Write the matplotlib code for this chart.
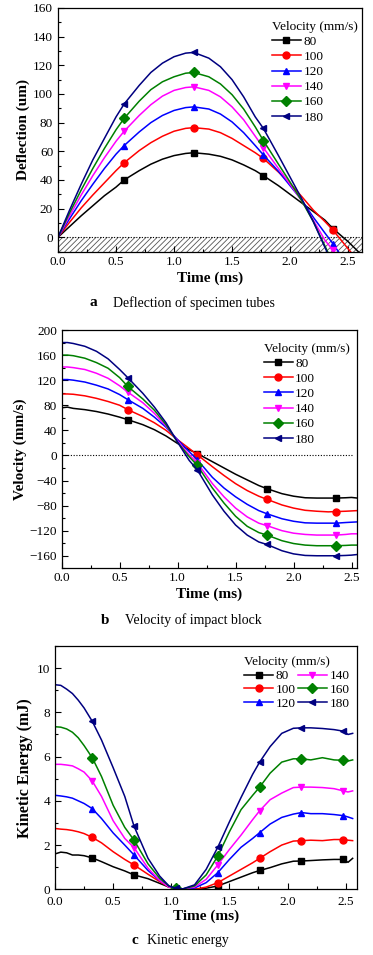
import numpy as np
import matplotlib
matplotlib.use("Agg")
import matplotlib.pyplot as plt
from matplotlib.ticker import MultipleLocator

plt.rcParams['font.family'] = ['Liberation Serif', 'DejaVu Serif']
plt.rcParams['hatch.linewidth'] = 0.6

# ---------------- data ----------------
velocities = ["80", "100", "120", "140", "160", "180"]
colors = ["#000000", "#FF0000", "#0000FF", "#FF00FF", "#008000", "#000080"]
markers = ["s", "o", "^", "v", "D", "<"]

# (a) deflection of specimen tubes (um)
t_a = [0, 0.1, 0.2, 0.3, 0.4, 0.5, 0.57, 0.7, 0.8, 0.9, 1.0, 1.1, 1.17, 1.3, 1.4,
       1.5, 1.6, 1.7, 1.77, 1.9, 2.0, 2.1, 2.2, 2.3, 2.37, 2.5, 2.6]
mk_a = [0.57, 1.17, 1.77, 2.37]
defl_80 = [0, 7.5, 15, 22, 29, 35, 40, 46.5, 51, 54.5, 57, 58.5, 59, 58, 56.5,
           54, 50.5, 46.5, 43, 36, 30, 24, 18, 12, 6, -3, -11]
defl_100 = [0, 10.5, 20.5, 29.5, 38, 46.5, 52, 60.5, 66, 70.5, 74, 76, 76.5, 75.5, 73,
            69, 64, 59, 55, 45.5, 37.5, 28.5, 19, 11, 5, -8, -18]
defl_120 = [0, 13, 25.5, 37, 48, 58, 64, 73.5, 80, 85, 88.5, 90.5, 91, 89.5, 86,
            80.5, 73, 64, 57.5, 46, 36, 26, 14, 3, -4.5, -20, -32]
defl_140 = [0, 15, 29.5, 43, 55.5, 67, 74, 85, 92.5, 98.5, 102.5, 104.5, 105, 102.5, 98,
            91, 82, 70.5, 62.5, 48, 37, 25.5, 12, -2, -9, -28, -42]
defl_160 = [0, 17, 33, 48, 62, 75, 83, 95, 103, 108.5, 112, 114.5, 115, 112, 107,
            99.5, 89.5, 77, 67.5, 51, 38.5, 25.5, 11, -6, -18, -38, -52]
defl_180 = [0, 19, 37, 54, 69, 84, 93, 106, 115, 121.5, 126, 128.5, 129, 125, 119,
            110, 98, 84, 76, 57, 42, 27, 11, -7, -19, -40, -55]

# (b) velocity of impact block (mm/s)
t_b = [0, 0.05, 0.1, 0.2, 0.3, 0.4, 0.5, 0.57, 0.7, 0.8, 0.9, 1.0, 1.1, 1.17, 1.3,
       1.4, 1.5, 1.6, 1.7, 1.77, 1.9, 2.0, 2.1, 2.2, 2.3, 2.37, 2.45, 2.5, 2.55, 2.6]
mk_b = [0.57, 1.17, 1.77, 2.37]
vel_80 = [76, 77, 75, 73, 70, 66, 61, 57, 49, 41, 31, 19, 9, 3, -10,
          -20, -30, -39, -48, -53, -61, -65, -67.5, -68, -68, -68, -67.5, -67, -68, -69]
vel_100 = [98, 98, 97.5, 95, 91, 86, 80, 73, 62, 52, 40, 25, 11, 1, -18,
           -32, -45, -56, -65, -70, -79, -84, -87.5, -89, -90, -89.5, -89, -88.5, -88, -88]
vel_120 = [121, 121, 120, 117, 112, 106, 97, 89, 75, 61, 45, 25, 6, -7, -35,
           -52, -66, -78, -88, -93, -101, -105, -107.5, -108, -108, -108, -107, -106.5, -106, -105]
vel_140 = [141, 141, 140, 137, 131, 123, 111, 101, 84, 67, 47, 23, 1, -12, -45,
           -66, -84, -98, -108, -112, -120, -124, -126, -127, -127, -127, -126, -125, -125, -125]
vel_160 = [160, 160, 159, 155, 148, 139, 124, 110, 90, 72, 49, 21, -2, -16, -52,
           -76, -97, -113, -123, -127, -136, -140.5, -143, -144, -144, -144, -143.5, -143, -143, -142]
vel_180 = [180, 180, 178.5, 174, 166, 154, 137, 124, 99, 77, 52, 21, -8, -23, -63,
           -89, -111, -127, -138, -142, -152, -157, -159.5, -160, -160, -160, -159.5, -159, -158, -157]

# (c) kinetic energy (mJ)
t_c = [0, 0.05, 0.1, 0.15, 0.2, 0.25, 0.32, 0.4, 0.5, 0.6, 0.68, 0.8, 0.9, 0.98, 1.04,
       1.1, 1.2, 1.3, 1.4, 1.5, 1.6, 1.7, 1.76, 1.85, 1.95, 2.05, 2.12, 2.2, 2.3, 2.4,
       2.48, 2.52, 2.56]
mk_c = [0.32, 0.68, 1.04, 1.4, 1.76, 2.12, 2.48]
ke_80 = [1.6, 1.68, 1.65, 1.55, 1.55, 1.52, 1.42, 1.25, 1.02, 0.83, 0.65, 0.48, 0.27, 0.1, 0.02,
         0.0, 0.0, 0.05, 0.15, 0.35, 0.55, 0.75, 0.85, 0.98, 1.15, 1.27, 1.28, 1.3, 1.33, 1.35,
         1.35, 1.22, 1.4]
ke_100 = [2.75, 2.72, 2.7, 2.66, 2.6, 2.52, 2.35, 2.1, 1.7, 1.35, 1.1, 0.68, 0.35, 0.1, 0.03,
          0.0, 0.0, 0.1, 0.3, 0.6, 0.9, 1.2, 1.4, 1.7, 2.0, 2.18, 2.2, 2.22, 2.2, 2.25,
          2.25, 2.22, 2.2]
ke_120 = [4.25, 4.22, 4.18, 4.12, 4.0, 3.88, 3.65, 3.2, 2.55, 2.0, 1.55, 0.85, 0.4, 0.12, 0.03,
          0.01, 0.06, 0.3, 0.75, 1.35, 1.9, 2.3, 2.56, 2.95, 3.25, 3.4, 3.47, 3.42, 3.42, 3.38,
          3.33, 3.27, 3.2]
ke_140 = [5.65, 5.65, 5.62, 5.58, 5.45, 5.3, 4.9, 4.2, 3.1, 2.3, 1.88, 0.95, 0.4, 0.1, 0.03,
          0.02, 0.1, 0.45, 1.1, 1.8, 2.45, 3.15, 3.55, 4.05, 4.35, 4.6, 4.62, 4.62, 4.6, 4.55,
          4.45, 4.4, 4.45]
ke_160 = [7.35, 7.33, 7.25, 7.1, 6.85, 6.5, 5.95, 5.1, 3.8, 2.8, 2.22, 1.15, 0.5, 0.15, 0.04,
          0.02, 0.15, 0.65, 1.5, 2.6, 3.6, 4.25, 4.62, 5.25, 5.75, 5.9, 5.9, 5.85, 5.95, 5.85,
          5.83, 5.8, 5.85]
ke_180 = [9.25, 9.22, 9.05, 8.85, 8.55, 8.2, 7.6, 6.75, 5.5, 4.2, 2.85, 1.4, 0.6, 0.15, 0.04,
          0.02, 0.2, 0.9, 1.9, 3.05, 4.15, 5.2, 5.75, 6.45, 7.05, 7.28, 7.3, 7.3, 7.27, 7.22,
          7.15, 7.0, 7.05]

defl = [defl_80, defl_100, defl_120, defl_140, defl_160, defl_180]
vel = [vel_80, vel_100, vel_120, vel_140, vel_160, vel_180]
ke = [ke_80, ke_100, ke_120, ke_140, ke_160, ke_180]

# ---------------- figure ----------------
W, H = 373, 955
fig = plt.figure(figsize=(W / 100, H / 100), dpi=100)


def px_axes(l, t, r, b):
    return fig.add_axes([l / W, 1 - b / H, (r - l) / W, (b - t) / H])


def style(ax, ymaj, ymin, xpad=3.0, lpad=2.5):
    ax.xaxis.set_major_locator(MultipleLocator(0.5))
    ax.xaxis.set_minor_locator(MultipleLocator(0.25))
    ax.yaxis.set_major_locator(MultipleLocator(ymaj))
    ax.yaxis.set_minor_locator(MultipleLocator(ymin))
    ax.tick_params(which='both', direction='in', top=False, right=False,
                   labelsize=9.5, width=0.8)
    ax.tick_params(axis='x', pad=xpad)
    ax.tick_params(which='major', length=4)
    ax.tick_params(which='minor', length=2)
    for s in ax.spines.values():
        s.set_linewidth(0.9)
    ax.set_xlabel("Time (ms)", fontsize=11, fontweight='bold', labelpad=lpad)


def plot_series(ax, t, data, mk_t):
    t = np.asarray(t)
    idx = [int(np.argmin(np.abs(t - m))) for m in mk_t]
    for d, c, m, lab in zip(data, colors, markers, velocities):
        ax.plot(t, d, color=c, lw=1.1, marker=m, markevery=idx, ms=5,
                mec=c, mfc=c, label=lab)


def add_legend(ax, ncol=1, spacing=0.22, anchor=(1.0, 0.98)):
    leg = ax.legend(title="Velocity (mm/s)", loc='upper right', frameon=False,
                    ncol=ncol, fontsize=9.5, title_fontsize=9.5, handlelength=2.2,
                    handletextpad=0.2, labelspacing=spacing, columnspacing=0.15,
                    borderaxespad=0.2, bbox_to_anchor=anchor)
    leg._legend_box.align = "left"
    return leg


# panel a
ax1 = px_axes(58, 8, 362, 251.6)
ax1.axhspan(-10, 0, facecolor='none', edgecolor='#555555', hatch='//////', lw=0)
ax1.axhline(0, color='black', lw=0.8, ls=(0, (1, 1.5)))
plot_series(ax1, t_a, defl, mk_a)
ax1.set_xlim(0, 2.62)
ax1.set_ylim(-10, 160)
style(ax1, 20, 10)
ax1.set_ylabel("Deflection (um)", fontsize=11, fontweight='bold', labelpad=2)
add_legend(ax1, anchor=(1.012, 0.98))

# panel b
ax2 = px_axes(61.7, 330, 357.3, 568.3)
ax2.hlines(0, 0, 2.5, color='black', lw=0.8, linestyles=(0, (1, 1.5)))
plot_series(ax2, t_b, vel, mk_b)
ax2.set_xlim(0, 2.55)
ax2.set_ylim(-180, 200)
style(ax2, 40, 20)
ax2.set_ylabel("Velocity (mm/s)", fontsize=11, fontweight='bold', labelpad=2)
add_legend(ax2)

# panel c
ax3 = px_axes(55, 646, 357.3, 889.3)
plot_series(ax3, t_c, ke, mk_c)
ax3.set_xlim(0, 2.6)
ax3.set_ylim(0, 11)
style(ax3, 2, 1, xpad=5.0, lpad=1.0)
ax3.set_ylabel("Kinetic Energy (mJ)", fontsize=11.5, fontweight='bold', labelpad=3)
add_legend(ax3, ncol=2, spacing=0.12, anchor=(1.0, 0.99))

# captions
def caption(xl, xt, y, letter, text):
    fig.text(xl / W, 1 - y / H, letter, fontsize=11, fontweight='bold', va='center')
    fig.text(xt / W, 1 - y / H, text, fontsize=10, va='center')


caption(90, 113, 303, "a", "Deflection of specimen tubes")
caption(101, 125, 620, "b", "Velocity of impact block")
caption(131, 147, 940, "c", "Kinetic energy")

fig.savefig("out.png", dpi=100, facecolor='white')
